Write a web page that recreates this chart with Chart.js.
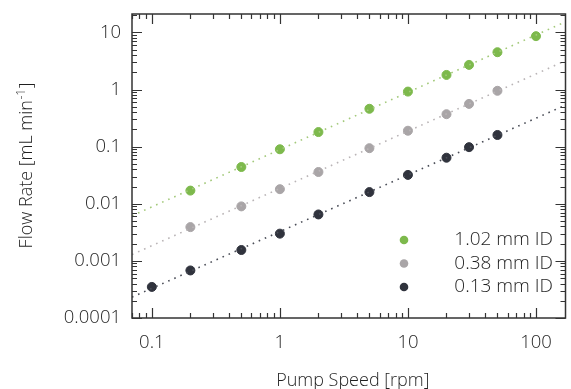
<!DOCTYPE html>
<html>
<head>
<meta charset="utf-8">
<script src="https://cdn.jsdelivr.net/npm/chart.js@4"></script>
<style>
  html, body { margin: 0; padding: 0; background: #fff; }
  #wrap { width: 571px; height: 389px; }
</style>
</head>
<body>
<div id="wrap"><canvas id="chart"></canvas></div>
<script>
const speeds = [0.1, 0.2, 0.5, 1, 2, 5, 10, 20, 30, 50, 100];
const flow102 = [null, 0.017, 0.044, 0.09, 0.18, 0.46, 0.92, 1.8, 2.7, 4.5, 8.6];
const flow038 = [null, 0.0039, 0.009, 0.018, 0.036, 0.094, 0.19, 0.37, 0.56, 0.95, null];
const flow013 = [0.00035, 0.00068, 0.00155, 0.003, 0.0065, 0.016, 0.032, 0.064, 0.098, 0.16, null];
const seriesLabels = ["1.02 mm ID", "0.38 mm ID", "0.13 mm ID"];

const xRange = [0.07, 170];
const yRange = [0.0001, 21];

const pointColors = ["#7db94c", "#a9a5a7", "#30333d"];
const lineColors = ["#a3c97a", "#b9b4b6", "#4a4d57"];
const FONT = "'Open Sans', sans-serif";
const TEXT = "#1f1f1f";

// least squares fit in log-log space, evaluated at the axis ends
function fitLine(xs, ys) {
  const pts = xs.map((x, i) => [x, ys[i]]).filter((p) => p[1] != null)
    .map((p) => [Math.log10(p[0]), Math.log10(p[1])]);
  const n = pts.length;
  const mx = pts.reduce((s, p) => s + p[0], 0) / n;
  const my = pts.reduce((s, p) => s + p[1], 0) / n;
  let num = 0, den = 0;
  pts.forEach((p) => { num += (p[0] - mx) * (p[1] - my); den += (p[0] - mx) ** 2; });
  const k = num / den, b = my - k * mx;
  return xRange.map((x) => ({ x: x, y: Math.pow(10, b + k * Math.log10(x)) }));
}

const toPoints = (ys) => speeds.map((x, i) => ({ x: x, y: ys[i] })).filter((p) => p.y != null);

const allSeries = [flow102, flow038, flow013];
const datasets = [];
allSeries.forEach((ys, i) => {
  datasets.push({
    type: "line",
    label: seriesLabels[i] + " fit",
    data: fitLine(speeds, ys),
    borderColor: lineColors[i],
    borderWidth: 1.6,
    borderDash: [1.6, 5],
    pointRadius: 0,
    fill: false,
  });
});
allSeries.forEach((ys, i) => {
  datasets.push({
    type: "scatter",
    label: seriesLabels[i],
    data: toPoints(ys),
    backgroundColor: pointColors[i],
    borderColor: pointColors[i],
    pointRadius: 4.5,
    pointHoverRadius: 4.5,
  });
});

function logTicks(min, max) {
  const out = [];
  for (let e = Math.floor(Math.log10(min)); e <= Math.ceil(Math.log10(max)); e++) {
    for (let m = 1; m <= 9; m++) {
      const v = m * Math.pow(10, e);
      if (v >= min * 0.9999 && v <= max * 1.0001) out.push({ v: v, major: m === 1 });
    }
  }
  return out;
}

function decadeLabel(value) {
  const e = Math.log10(value);
  if (Math.abs(e - Math.round(e)) > 1e-6) return "";
  const r = Math.round(e);
  return r >= 0 ? String(Math.pow(10, r)) : Math.pow(10, r).toFixed(-r);
}

// box frame with inward ticks, axis titles and the legend
const decor = {
  id: "decor",
  afterDatasetsDraw(chart) {
    const { ctx, chartArea: a, scales } = chart;
    const x = scales.x, y = scales.y;
    ctx.save();
    ctx.strokeStyle = "#333";
    ctx.lineWidth = 1.5;
    ctx.strokeRect(a.left, a.top, a.right - a.left, a.bottom - a.top);
    ctx.lineWidth = 1.2;
    ctx.beginPath();
    logTicks(xRange[0], xRange[1]).forEach((t) => {
      const px = Math.round(x.getPixelForValue(t.v)) + 0.5;
      const len = t.major ? 10 : 5;
      ctx.moveTo(px, a.bottom); ctx.lineTo(px, a.bottom - len);
      ctx.moveTo(px, a.top); ctx.lineTo(px, a.top + len);
    });
    logTicks(yRange[0], yRange[1]).forEach((t) => {
      const py = Math.round(y.getPixelForValue(t.v)) + 0.5;
      const len = t.major ? 10 : 5;
      ctx.moveTo(a.left, py); ctx.lineTo(a.left + len, py);
      ctx.moveTo(a.right, py); ctx.lineTo(a.right - len, py);
    });
    ctx.stroke();

    // axis titles
    ctx.fillStyle = TEXT;
    ctx.font = "300 18px " + FONT;
    ctx.textAlign = "center";
    ctx.textBaseline = "alphabetic";
    ctx.fillText("Pump Speed [rpm]", (a.left + a.right) / 2 + 4, 386);

    ctx.save();
    ctx.translate(32, (a.top + a.bottom) / 2);
    ctx.rotate(-Math.PI / 2);
    const main = "Flow Rate [mL min", sup = "-1", tail = "]";
    ctx.font = "300 18px " + FONT;
    const w1 = ctx.measureText(main).width, w3 = ctx.measureText(tail).width;
    ctx.font = "300 12px " + FONT;
    const w2 = ctx.measureText(sup).width;
    const sx = -(w1 + w2 + w3) / 2;
    ctx.textAlign = "left";
    ctx.font = "300 18px " + FONT;
    ctx.fillText(main, sx, 0);
    ctx.font = "300 12px " + FONT;
    ctx.fillText(sup, sx + w1 + 0.5, -7);
    ctx.font = "300 18px " + FONT;
    ctx.fillText(tail, sx + w1 + w2 + 1, 0);
    ctx.restore();

    // legend
    ctx.font = "300 19px " + FONT;
    ctx.textAlign = "right";
    ctx.textBaseline = "middle";
    seriesLabels.forEach((lab, i) => {
      const ly = 240 + i * 23.5;
      ctx.fillStyle = pointColors[i];
      ctx.beginPath();
      ctx.arc(404, ly, 4.3, 0, Math.PI * 2);
      ctx.fill();
      ctx.fillStyle = TEXT;
      ctx.fillText(lab, 553, ly);
    });
    ctx.restore();
  },
};

new Chart(document.getElementById("chart"), {
  data: { datasets: datasets },
  options: {
    responsive: true,
    maintainAspectRatio: false,
    animation: false,
    layout: { padding: { top: 14, right: 1, left: 0, bottom: 0 } },
    plugins: { legend: { display: false }, tooltip: { enabled: false } },
    scales: {
      x: {
        type: "logarithmic",
        min: xRange[0],
        max: xRange[1],
        grid: { display: false, drawTicks: false },
        border: { display: false },
        afterFit: (s) => { s.height = 71; s.paddingLeft = 0; s.paddingRight = 0; },
        ticks: {
          autoSkip: false,
          maxRotation: 0,
          padding: 14,
          color: TEXT,
          font: { family: FONT, size: 18.5, weight: 300 },
          callback: (v) => decadeLabel(v),
        },
      },
      y: {
        type: "logarithmic",
        min: yRange[0],
        max: yRange[1],
        grid: { display: false, drawTicks: false },
        border: { display: false },
        afterFit: (s) => { s.width = 132; s.paddingTop = 0; s.paddingBottom = 0; },
        ticks: {
          autoSkip: false,
          padding: 11,
          color: TEXT,
          font: { family: FONT, size: 18.5, weight: 300 },
          callback: (v) => decadeLabel(v),
        },
      },
    },
  },
  plugins: [decor],
});
</script>
</body>
</html>
